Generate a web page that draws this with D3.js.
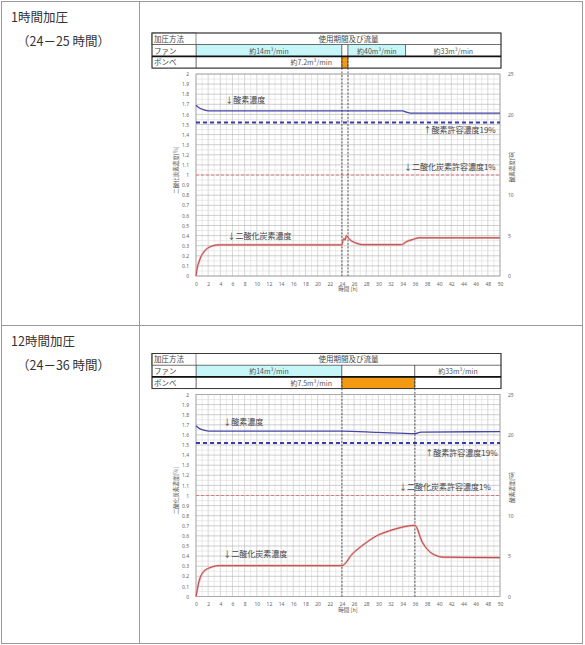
<!DOCTYPE html>
<html><head><meta charset="utf-8">
<script src="https://cdn.jsdelivr.net/npm/d3@7"></script>
<style>
body{margin:0;background:#fff;}
svg{display:block;font-family:"Noto Sans CJK JP","Noto Sans",sans-serif;}
</style>
</head><body>
<svg id="c" width="585" height="645"></svg>
<script>
// ---------- data ----------
const xTickLabels = [0,2,4,6,8,10,12,14,16,18,20,22,24,26,28,30,32,34,36,38,40,42,44,46,48,50];
const leftTickLabels = [0,0.1,0.2,0.3,0.4,0.5,0.6,0.7,0.8,0.9,1,1.1,1.2,1.3,1.4,1.5,1.6,1.7,1.8,1.9,2];
const rightTickLabels = [0,5,10,15,20,25];
const rowTitles = ["1時間加圧","12時間加圧"];
const rowSubtitles = ["（24－25 時間）","（24－36 時間）"];
const headerRowLabels = ["加圧方法","ファン","ボンベ"];
const headerTitle = "使用期間及び流量";
const xAxisTitle = "時間 [h]";
const leftAxisTitle = "二酸化炭素濃度[%]";
const rightAxisTitle = "酸素濃度[%]";
const o2Limit = 19;   // % (right axis)
const co2Limit = 1;   // % (left axis)

// chart 1 (24-25 h)
const fan1 = [{from:0,to:24,label:"約14m³/min",on:true},{from:24,to:25,label:"",on:false},{from:25,to:34.5,label:"約40m³/min",on:true},{from:34.5,to:50,label:"約33m³/min",on:false}];
const bombe1 = [{from:0,to:24,label:"約7.2m³/min",on:false},{from:24,to:25,label:"",on:true},{from:25,to:50,label:"",on:false}];
const dashes1 = [24,25];
const co2Series1 = [[0,0],[0.2,0.08],[0.5,0.14],[0.8,0.19],[1.2,0.23],[1.6,0.26],[2.2,0.285],[2.8,0.3],[3.8,0.308],[24,0.308],[24.15,0.35],[24.35,0.37],[24.5,0.355],[24.75,0.4],[25.2,0.365],[25.8,0.34],[26.4,0.325],[27.4,0.31],[33.8,0.31],[34.6,0.34],[35.6,0.36],[36.7,0.378],[50,0.378]];
const o2Series1 = [[0,1.69],[0.5,1.665],[1.3,1.645],[2.1,1.635],[34,1.635],[34.6,1.622],[35.3,1.612],[50,1.612]];
const notes1 = [{t:4.8,v:1.71,text:"↓酸素濃度",anchor:"start"},{t:49.3,v:1.42,text:"↑酸素許容濃度19%",anchor:"end"},{t:49.3,v:1.05,text:"↓二酸化炭素許容濃度1%",anchor:"end"},{t:5.2,v:0.37,text:"↓二酸化炭素濃度",anchor:"start"}];

// chart 2 (24-36 h)
const fan2 = [{from:0,to:24,label:"約14m³/min",on:true},{from:24,to:36,label:"",on:false},{from:36,to:50,label:"約33m³/min",on:false}];
const bombe2 = [{from:0,to:24,label:"約7.5m³/min",on:false},{from:24,to:36,label:"",on:true},{from:36,to:50,label:"",on:false}];
const dashes2 = [24,36];
const co2Series2 = [[0,0],[0.5,0.15],[1.3,0.25],[2.5,0.29],[3.8,0.305],[24,0.305],[25.7,0.42],[27.7,0.52],[29.7,0.6],[31.8,0.65],[33.8,0.685],[36,0.705],[37.2,0.54],[38.4,0.445],[39.5,0.405],[40.5,0.39],[50,0.385]];
const o2Series2 = [[0,1.69],[0.5,1.665],[1.3,1.648],[2.1,1.638],[24,1.638],[30,1.625],[36,1.612],[37,1.628],[50,1.632]];
const notes2 = [{t:4.5,v:1.7,text:"↓酸素濃度",anchor:"start"},{t:49.6,v:1.39,text:"↑酸素許容濃度19%",anchor:"end"},{t:48.5,v:1.05,text:"↓二酸化炭素許容濃度1%",anchor:"end"},{t:4.5,v:0.39,text:"↓二酸化炭素濃度",anchor:"start"}];

// ---------- drawing ----------
const svg = d3.select("#c");

// outer table
const T = svg.append("g").attr("stroke","#9a9a9a").attr("stroke-width",1).attr("fill","none");
T.append("rect").attr("x",1.5).attr("y",1.5).attr("width",581).attr("height",642);
T.append("line").attr("x1",139.5).attr("x2",139.5).attr("y1",1.5).attr("y2",643.5);
T.append("line").attr("x1",1.5).attr("x2",582.5).attr("y1",325.5).attr("y2",325.5);

const rowTops = [0,324];
rowTitles.forEach((t,i)=>{
  svg.append("text").attr("x",11).attr("y",rowTops[i]+22).attr("font-size",12.5).attr("fill","#333").text(t);
  svg.append("text").attr("x",17).attr("y",rowTops[i]+46).attr("font-size",12.5).attr("fill","#333").text(rowSubtitles[i]);
});

function drawChart(cfg){
  const g = svg.append("g");
  const x = d3.scaleLinear().domain([0,50]).range([196,500]);
  const top = cfg.top;
  const yTop = top+41, yBot = yTop+202;
  const y = d3.scaleLinear().domain([0,2]).range([yBot,yTop]);
  const yR = d3.scaleLinear().domain([0,25]).range([yBot,yTop]);

  // ---- header table ----
  const hL = 152, hC = x(0), hR = x(50)+1;
  const rh = 11.7;
  const rowY = [top, top+rh, top+2*rh, top+3*rh];
  const H = g.append("g");
  function cells(list,r){
    list.forEach(c=>{
      const x0 = c.from===0 ? hC : x(c.from), x1 = c.to===50 ? hR : x(c.to);
      H.append("rect").attr("x",x0).attr("y",rowY[r]).attr("width",x1-x0).attr("height",rh)
        .attr("fill", c.on ? (r===1?"#c6f6f8":"#f39a12") : "#fff").attr("stroke","#444").attr("stroke-width",0.6);
    });
  }
  H.append("rect").attr("x",hL).attr("y",rowY[0]).attr("width",hR-hL).attr("height",rh).attr("fill","#fff").attr("stroke","#444").attr("stroke-width",0.6);
  cells(cfg.fan,1);
  cells(cfg.bombe,2);
  [0,1,2].forEach(r=>{
    H.append("rect").attr("x",hL).attr("y",rowY[r]).attr("width",hC-hL).attr("height",rh).attr("fill","#fff").attr("stroke","#444").attr("stroke-width",0.6);
    H.append("text").attr("x",hL+2).attr("y",rowY[r]+rh-2.8).attr("font-size",7.5).attr("fill","#444").text(headerRowLabels[r]);
  });
  H.append("text").attr("x",(hC+hR)/2).attr("y",rowY[0]+rh-2.8).attr("text-anchor","middle").attr("font-size",7.5).attr("fill","#444").text(headerTitle);
  cfg.fan.forEach(c=>{ if(c.label){
    const x0 = c.from===0 ? hC : x(c.from), x1 = c.to===50 ? hR : x(c.to);
    H.append("text").attr("x",(x0+x1)/2).attr("y",rowY[1]+rh-2.8).attr("text-anchor","middle").attr("font-size",7).attr("fill","#555").text(c.label);
  }});
  cfg.bombe.forEach(c=>{ if(c.label){
    const x1 = x(c.to);
    H.append("text").attr("x",x1-10).attr("y",rowY[2]+rh-2.8).attr("text-anchor","end").attr("font-size",7).attr("fill","#555").text(c.label);
  }});
  H.append("rect").attr("x",hL).attr("y",rowY[0]).attr("width",hR-hL).attr("height",3*rh).attr("fill","none").attr("stroke","#333").attr("stroke-width",0.9);
  H.append("line").attr("x1",hL).attr("x2",hR).attr("y1",rowY[2]).attr("y2",rowY[2]).attr("stroke","#111").attr("stroke-width",1.6);

  // ---- grid ----
  const G = g.append("g");
  d3.range(0,50.001,1).forEach(t=>{
    G.append("line").attr("x1",x(t)).attr("x2",x(t)).attr("y1",yTop).attr("y2",yBot)
      .attr("stroke", t%2===0 ? "#bdbdbd" : "#dcdcdc").attr("stroke-width",0.6);
  });
  d3.range(0,40.001,1).forEach(k=>{
    const v = k*0.05;
    G.append("line").attr("x1",x(0)).attr("x2",x(50)).attr("y1",y(v)).attr("y2",y(v))
      .attr("stroke", k%2===0 ? "#acacac" : "#dadada").attr("stroke-width",0.6);
  });
  G.append("rect").attr("x",x(0)).attr("y",yTop).attr("width",x(50)-x(0)).attr("height",yBot-yTop).attr("fill","none").attr("stroke","#999").attr("stroke-width",0.7);

  // ---- axes ----
  const fmt = d=>String(+(+d).toFixed(1));
  const ax = g.append("g").attr("transform",`translate(0,${yBot+3})`)
    .call(d3.axisBottom(x).tickValues(xTickLabels).tickSize(0).tickFormat(fmt));
  const al = g.append("g").attr("transform",`translate(${x(0)-3},0)`)
    .call(d3.axisLeft(y).tickValues(leftTickLabels).tickSize(0).tickFormat(fmt));
  const ar = g.append("g").attr("transform",`translate(${x(50)+4},0)`)
    .call(d3.axisRight(yR).tickValues(rightTickLabels).tickSize(0).tickFormat(fmt));
  [ax,al,ar].forEach(a=>{
    a.select(".domain").remove();
    a.selectAll("text").attr("font-size",5).attr("fill","#666").attr("font-family","'Noto Sans',sans-serif");
  });
  al.selectAll("text").attr("x",-4);
  ar.selectAll("text").attr("x",4);
  g.append("text").attr("x",(x(0)+x(50))/2).attr("y",yBot+15).attr("text-anchor","middle").attr("font-size",5.5).attr("fill","#555").text(xAxisTitle);
  g.append("text").attr("transform",`translate(178,${(yTop+yBot)/2 - 5}) rotate(-90)`).attr("text-anchor","middle").attr("font-size",5.5).attr("fill","#555").text(leftAxisTitle);
  g.append("text").attr("transform",`translate(514,${y(1.08)}) rotate(-90)`).attr("text-anchor","middle").attr("font-size",5.5).attr("fill","#555").text(rightAxisTitle);

  // ---- reference lines ----
  g.append("line").attr("x1",x(0)).attr("x2",x(50)).attr("y1",yR(o2Limit)).attr("y2",yR(o2Limit))
    .attr("stroke","#3a3ab0").attr("stroke-width",2).attr("stroke-dasharray","4,3");
  g.append("line").attr("x1",x(0)).attr("x2",x(50)).attr("y1",y(co2Limit)).attr("y2",y(co2Limit))
    .attr("stroke","#e07070").attr("stroke-width",0.9).attr("stroke-dasharray","3,2");

  cfg.dashes.forEach(t=>{
    g.append("line").attr("x1",x(t)).attr("x2",x(t)).attr("y1",rowY[2]+1).attr("y2",yBot)
      .attr("stroke","#333").attr("stroke-width",0.8).attr("stroke-dasharray","2,1.5");
  });

  // ---- data lines ----
  const line = d3.line().x(d=>x(d[0])).y(d=>y(d[1])).curve(d3.curveMonotoneX);
  g.append("path").datum(cfg.o2).attr("d",line).attr("fill","none").attr("stroke","#4545a5").attr("stroke-width",1.3);
  g.append("path").datum(cfg.co2).attr("d",line).attr("fill","none").attr("stroke","#eab0b0").attr("stroke-width",2.2);
  g.append("path").datum(cfg.co2).attr("d",line).attr("fill","none").attr("stroke","#b84848").attr("stroke-width",1);

  // ---- notes ----
  cfg.notes.forEach(n=>{
    g.append("text").attr("x",x(n.t)).attr("y",y(n.v)).attr("text-anchor",n.anchor).attr("font-size",8).attr("fill","#444").text(n.text);
  });
}

drawChart({top:33, fan:fan1, bombe:bombe1, dashes:dashes1, co2:co2Series1, o2:o2Series1, notes:notes1});
drawChart({top:353.5, fan:fan2, bombe:bombe2, dashes:dashes2, co2:co2Series2, o2:o2Series2, notes:notes2});
</script>
</body></html>
